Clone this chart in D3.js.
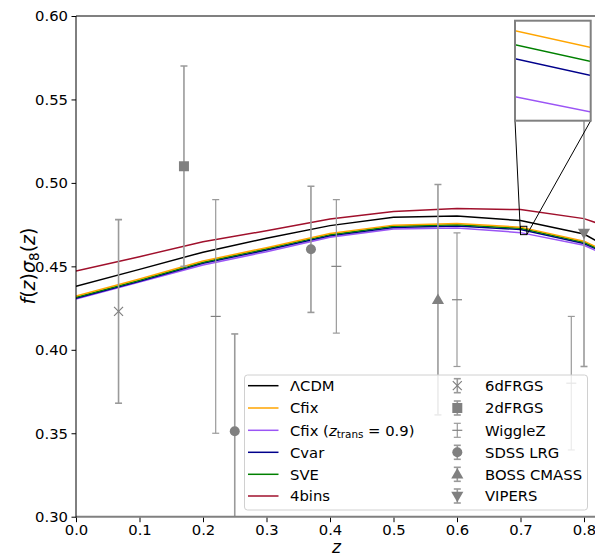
<!DOCTYPE html>
<html>
<head>
<meta charset="utf-8">
<script src="https://cdn.jsdelivr.net/npm/d3@7"></script>
<style>
  html, body { margin: 0; padding: 0; background: #fff; }
  svg { display: block; font-family: "DejaVu Sans", sans-serif; }
</style>
</head>
<body>
<svg id="chart" width="595" height="557"></svg>
<script>
// Redshift grid for the growth-rate curves
const zGrid = [0, 0.1, 0.2, 0.3, 0.4, 0.5, 0.6, 0.7, 0.8, 0.82];

// f(z) sigma_8(z) for each model
const lcdm    = [0.4380, 0.4482, 0.4585, 0.4668, 0.4744, 0.4794, 0.4802, 0.4774, 0.4694, 0.4652];
const cfix    = [0.4322, 0.4424, 0.4532, 0.4612, 0.4697, 0.4747, 0.4756, 0.4735, 0.4651, 0.4616];
const cfix09  = [0.4304, 0.4406, 0.4508, 0.4588, 0.4674, 0.4724, 0.4730, 0.4702, 0.4626, 0.4592];
const cvar    = [0.4308, 0.4410, 0.4518, 0.4598, 0.4683, 0.4733, 0.4742, 0.4721, 0.4637, 0.4602];
const sve     = [0.4315, 0.4417, 0.4525, 0.4605, 0.4690, 0.4740, 0.4749, 0.4728, 0.4644, 0.4609];
const bins4   = [0.4472, 0.4558, 0.4648, 0.4713, 0.4784, 0.4828, 0.4846, 0.4840, 0.4786, 0.4760];

// Measurements: redshift, value, 1-sigma error
const sixdfZ = [0.067], sixdfV = [0.423], sixdfE = [0.055];
const twodfZ = [0.17],  twodfV = [0.51],  twodfE = [0.06];
const wiggleZ = [0.22, 0.41, 0.60, 0.78], wiggleV = [0.42, 0.45, 0.43, 0.38], wiggleE = [0.07, 0.04, 0.04, 0.04];
const sdssZ = [0.25, 0.37], sdssV = [0.3512, 0.4602], sdssE = [0.0583, 0.0378];
const bossZ = [0.57], bossV = [0.43], bossE = [0.069];
const vipersZ = [0.80], vipersV = [0.47], vipersE = [0.08];

// Axis ticks
const xTicks = [0, 0.1, 0.2, 0.3, 0.4, 0.5, 0.6, 0.7, 0.8];
const yTicks = [0.30, 0.35, 0.40, 0.45, 0.50, 0.55, 0.60];

// Zoom window
const zoomX = [0.70, 0.71];
const zoomY = [0.469, 0.474];

const models = [
  { name: "ΛCDM", vals: lcdm, color: "#000000" },
  { name: "Cfix", vals: cfix, color: "#ffa500" },
  { name: "Cfix09", vals: cfix09, color: "#9b55f5" },
  { name: "Cvar", vals: cvar, color: "#00008b" },
  { name: "SVE", vals: sve, color: "#008000" },
  { name: "4bins", vals: bins4, color: "#a0102c" }
];
// drawing order (later on top)
const drawOrder = ["4bins", "ΛCDM", "Cfix09", "Cvar", "SVE", "Cfix"];

const GRAY = "#808080";
const EBAR = "#9a9a9a";
const FS = "14.8px";

const datasets = [
  { name: "6dFRGS", z: sixdfZ, v: sixdfV, e: sixdfE, marker: "x" },
  { name: "2dFRGS", z: twodfZ, v: twodfV, e: twodfE, marker: "square" },
  { name: "WiggleZ", z: wiggleZ, v: wiggleV, e: wiggleE, marker: "hline" },
  { name: "SDSS LRG", z: sdssZ, v: sdssV, e: sdssE, marker: "circle" },
  { name: "BOSS CMASS", z: bossZ, v: bossV, e: bossE, marker: "tri-up" },
  { name: "VIPERS", z: vipersZ, v: vipersV, e: vipersE, marker: "tri-down" }
];

const svg = d3.select("#chart");
const L = 76, T = 16, B = 516.7;
const x = d3.scaleLinear().domain([0, 0.82]).range([L, L + 0.82 * 635]);
const y = d3.scaleLinear().domain([0.30, 0.60]).range([B, T]);

svg.append("defs").append("clipPath").attr("id", "plotClip")
  .append("rect").attr("x", L).attr("y", T).attr("width", 595 - L).attr("height", B - T);

const plot = svg.append("g").attr("clip-path", "url(#plotClip)");

function curveLine(xs, ys) {
  return d3.line().x((d, i) => xs(zGrid[i])).y(d => ys(d));
}

drawOrder.forEach(n => {
  const m = models.find(d => d.name === n);
  plot.append("path").datum(m.vals)
    .attr("d", curveLine(x, y))
    .attr("fill", "none").attr("stroke", m.color).attr("stroke-width", 1.5);
});

function drawMarker(g, type, cx, cy) {
  if (type === "x") {
    const r = 4.5;
    g.append("path").attr("d", `M${cx - r},${cy - r}L${cx + r},${cy + r}M${cx - r},${cy + r}L${cx + r},${cy - r}`)
      .attr("stroke", GRAY).attr("stroke-width", 1.2).attr("fill", "none");
  } else if (type === "hline") {
    g.append("path").attr("d", `M${cx - 5},${cy}L${cx + 5},${cy}`)
      .attr("stroke", GRAY).attr("stroke-width", 1.2);
  } else if (type === "square") {
    g.append("path").attr("d", d3.symbol(d3.symbolSquare, 100)())
      .attr("transform", `translate(${cx},${cy})`).attr("fill", GRAY);
  } else if (type === "circle") {
    g.append("circle").attr("cx", cx).attr("cy", cy).attr("r", 5).attr("fill", GRAY);
  } else if (type === "tri-up" || type === "tri-down") {
    g.append("path").attr("d", d3.symbol(d3.symbolTriangle, 64)())
      .attr("transform", `translate(${cx},${cy + (type === "tri-up" ? 0.8 : -0.8)}) rotate(${type === "tri-up" ? 0 : 180})`)
      .attr("fill", GRAY);
  }
}

function drawErrorBar(g, cx, yTop, yBot, cy, marker, lw) {
  g.append("line").attr("x1", cx).attr("x2", cx).attr("y1", yTop).attr("y2", yBot)
    .attr("stroke", EBAR).attr("stroke-width", lw);
  [yTop, yBot].forEach(yy => {
    g.append("line").attr("x1", cx - 3.5).attr("x2", cx + 3.5).attr("y1", yy).attr("y2", yy)
      .attr("stroke", EBAR).attr("stroke-width", lw);
  });
  drawMarker(g, marker, cx, cy);
}

datasets.forEach(ds => {
  const g = plot.append("g");
  const lw = ds.marker === "hline" ? 1.2 : 1.6;
  ds.z.forEach((z, i) => {
    drawErrorBar(g, x(z), y(ds.v[i] + ds.e[i]), y(ds.v[i] - ds.e[i]), y(ds.v[i]), ds.marker, lw);
  });
});

// Axes frame
svg.append("line").attr("x1", L).attr("x2", 595).attr("y1", T).attr("y2", T)
  .attr("stroke", GRAY).attr("stroke-width", 2);
svg.append("line").attr("x1", L).attr("x2", 595).attr("y1", B).attr("y2", B)
  .attr("stroke", GRAY).attr("stroke-width", 2);
svg.append("line").attr("x1", L).attr("x2", L).attr("y1", T).attr("y2", B + 1)
  .attr("stroke", "#000").attr("stroke-width", 1);

// Ticks
const xAxis = d3.axisBottom(x).tickValues(xTicks).tickFormat(d3.format(".1f")).tickSize(4.5).tickPadding(2.5);
const yAxis = d3.axisLeft(y).tickValues(yTicks).tickFormat(d3.format(".2f")).tickSize(4.5).tickPadding(3.5);
const gx = svg.append("g").attr("transform", `translate(0,${B + 1})`).call(xAxis);
const gy = svg.append("g").attr("transform", `translate(${L},0)`).call(yAxis);
[gx, gy].forEach(g => {
  g.select(".domain").remove();
  g.selectAll("line").attr("stroke", "#000").attr("stroke-width", 1);
  g.selectAll("text").attr("fill", "#000").attr("font-size", FS).attr("font-family", "DejaVu Sans");
});

// Axis labels
svg.append("text").attr("x", x(0.41)).attr("y", 553).attr("text-anchor", "middle")
  .attr("font-size", "17px").attr("font-style", "italic").text("z");

const yl = svg.append("text").attr("transform", "translate(35,266) rotate(-90)")
  .attr("text-anchor", "middle").attr("font-size", "19px");
yl.append("tspan").attr("font-style", "italic").text("f");
yl.append("tspan").text("(");
yl.append("tspan").attr("font-style", "italic").text("z");
yl.append("tspan").text(")");
yl.append("tspan").attr("font-style", "italic").text("σ");
yl.append("tspan").attr("font-size", "13.5px").attr("dy", 3.5).text("8");
yl.append("tspan").attr("dy", -3.5).text("(");
yl.append("tspan").attr("font-style", "italic").text("z");
yl.append("tspan").text(")");

// Legend
const lg = svg.append("g");
lg.append("rect").attr("x", 244.5).attr("y", 375).attr("width", 343).attr("height", 135)
  .attr("rx", 3).attr("fill", "#fff").attr("fill-opacity", 0.8)
  .attr("stroke", "#d0d0d0").attr("stroke-width", 1);
const rowY = [385.7, 408, 430.3, 452.3, 474.3, 496];
const legendModels = ["ΛCDM", "Cfix", "Cfix09", "Cvar", "SVE", "4bins"];
legendModels.forEach((n, i) => {
  const m = models.find(d => d.name === n);
  lg.append("line").attr("x1", 248).attr("x2", 278.5).attr("y1", rowY[i]).attr("y2", rowY[i])
    .attr("stroke", m.color).attr("stroke-width", 1.5);
  const t = lg.append("text").attr("x", 290).attr("y", rowY[i] + 5.3).attr("font-size", FS);
  if (n === "Cfix09") {
    t.append("tspan").text("Cfix (");
    t.append("tspan").attr("font-style", "italic").text("z");
    t.append("tspan").attr("font-size", "10.4px").attr("dy", 2.6).text("trans");
    t.append("tspan").attr("dy", -2.6).text(" = 0.9)");
  } else {
    t.text(n);
  }
});
datasets.forEach((ds, i) => {
  const cx = 457.3, cy = rowY[i];
  const lw = ds.marker === "hline" ? 1.2 : 1.6;
  drawErrorBar(lg, cx, cy - 7, cy + 7, cy, ds.marker, lw);
  lg.append("text").attr("x", 485).attr("y", cy + 5.3).attr("font-size", FS).text(ds.name);
});

// Zoomed inset
const inL = 515, inR = 590.7, inT = 20.7, inB = 120.7;
const xi = d3.scaleLinear().domain(zoomX).range([inL, inR]);
const yi = d3.scaleLinear().domain(zoomY).range([inB, inT]);

// Region marker and connectors
const rx0 = x(zoomX[0]), rx1 = x(zoomX[1]), ry0 = y(zoomY[1]), ry1 = y(zoomY[0]);
svg.append("rect").attr("x", rx0).attr("y", ry0).attr("width", rx1 - rx0).attr("height", ry1 - ry0)
  .attr("fill", "none").attr("stroke", "#000").attr("stroke-width", 1);
svg.append("line").attr("x1", inL).attr("y1", inB).attr("x2", rx0).attr("y2", ry1)
  .attr("stroke", "#000").attr("stroke-width", 1);
svg.append("line").attr("x1", inR).attr("y1", inB).attr("x2", rx1).attr("y2", ry1)
  .attr("stroke", "#000").attr("stroke-width", 1);

svg.select("defs").append("clipPath").attr("id", "insetClip")
  .append("rect").attr("x", inL).attr("y", inT).attr("width", inR - inL).attr("height", inB - inT);
svg.append("rect").attr("x", inL).attr("y", inT).attr("width", inR - inL).attr("height", inB - inT)
  .attr("fill", "#fff");
const inset = svg.append("g").attr("clip-path", "url(#insetClip)");
drawOrder.forEach(n => {
  const m = models.find(d => d.name === n);
  inset.append("path").datum(m.vals)
    .attr("d", curveLine(xi, yi))
    .attr("fill", "none").attr("stroke", m.color).attr("stroke-width", 1.5);
});
svg.append("rect").attr("x", inL).attr("y", inT).attr("width", inR - inL).attr("height", inB - inT)
  .attr("fill", "none").attr("stroke", GRAY).attr("stroke-width", 2);
</script>
</body>
</html>
